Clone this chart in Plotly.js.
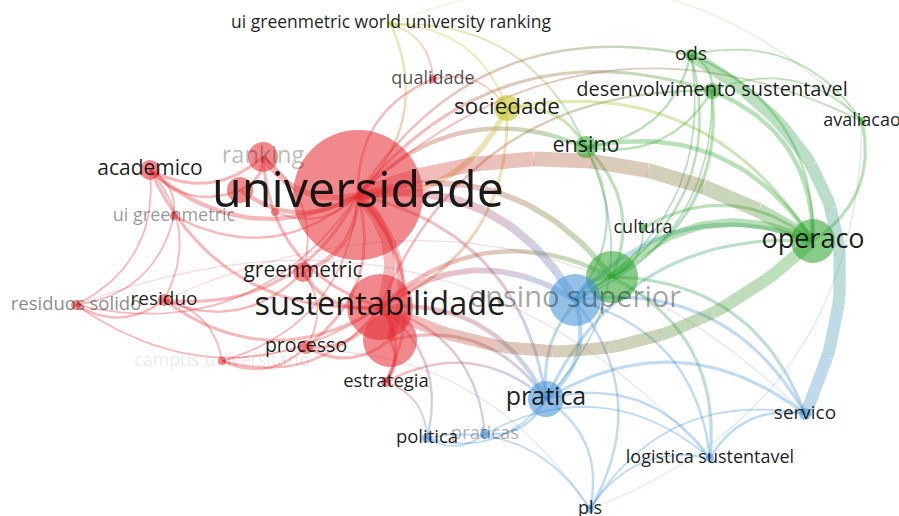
<!DOCTYPE html>
<html><head><meta charset="utf-8">
<script src="https://cdn.plot.ly/plotly-3.0.1.min.js"></script>
<style>html,body{margin:0;padding:0;background:#fff;overflow:hidden}#chart{width:899px;height:516px;}</style>
</head><body><div id="chart"></div>
<script>
// ---- DATA: VOSviewer co-occurrence map ----
const nodeLabels = [
  "universidade","sustentabilidade","","ranking","","","greenmetric","processo","academico",
  "ui greenmetric","residuo","residuos solido","campus universitario","estrategia","qualidade",
  "sociedade","ui greenmetric world university ranking","ods","desenvolvimento sustentavel",
  "avaliacao","ensino","cultura","operaco","","ensino superior","pratica","praticas","politica",
  "servico","logistica sustentavel","pls"
];
const mapX = [358,380,390,263,240,275,303,306,150,174,164,76,222,386,433,507,391,691,712,862,586,643,813,612,575,546,485,427,805,710,590];
const mapY = [195,307,340,157,190,212,272,347,170,216,300,305,361,382,79,108,24,55,91,121,147,228,241,277,300,399,434,438,414,458,509];
const nodeWeight = [65,33,27,15,13,4,10,7,10,4,6,5,4,5,4,13,3,6,8,4,11,4,22,26,26,18,5,5,6,4,4];
const nodeCluster = [0,0,0,0,0,0,0,0,0,0,0,0,0,0,0,1,1,2,2,2,2,2,2,2,3,3,3,3,3,3,3];
const edgeFrom = [0,0,0,0,0,0,0,0,0,0,0,0,0,0,1,1,1,1,1,1,1,1,1,2,2,3,3,6,8,8,8,10,10,7,9,3,4,6,13,
  15,16,16,16,16,15,15,15,14,
  17,18,17,17,18,19,17,18,20,23,21,20,18,17,21,0,22,0,0,1,0,0,1,0,
  0,1,24,24,24,17,25,25,25,25,25,26,24,24,24,1,0,13,27,29,30,30,26,1,1,2,25,25,23,23,20,20,18,17,
  11,12,19,16,10];
const edgeTo = [1,2,3,4,5,6,7,8,9,10,11,12,13,14,2,3,6,7,8,10,11,12,13,7,13,8,4,10,9,10,11,11,12,12,11,6,8,7,27,
  0,0,15,14,20,20,22,1,15,
  22,22,18,20,20,22,19,19,22,22,22,23,23,23,23,22,1,20,23,23,17,18,18,19,
  24,24,25,23,22,28,28,29,30,26,27,27,30,29,28,25,25,25,30,28,29,28,29,27,26,25,22,23,28,29,25,24,24,24,
  29,30,30,19,28];
const edgeStrength = [8,5,4,3,1,3,2,3,1.5,2,1,1,2,1.5,4,2,2.5,2.5,2,2,1,1.5,2,2,2,2,2,1.5,1,1,1,1.5,1,1.5,1,1,1.5,1,1,
  4,1.5,1,1,1,2,2,2,1,
  1.5,3,1.5,1.5,1.5,2,1,1,3,6,2,2,2,1.5,1,11,9,3,4,3,1.5,2,1.5,1,
  6,4,3,3,3,9,2,1.5,1.5,1.5,1,1,1.5,1.5,2,3,2,1.5,1,1.5,1,1,1,1.5,1.5,2,2,2,2,2,1,1.5,1,1,
  0.6,0.6,0.6,0.6,0.6];

// ---- STYLE ----
const clusterRGB = [[228,42,50],[190,190,30],[45,162,45],[62,142,212]];
const hiddenLabelAlpha = {"ranking":0.3,"ui greenmetric":0.45,"residuos solido":0.5,"campus universitario":0.1,
  "ensino superior":0.4,"praticas":0.35,"qualidade":0.75};
const curvatureOverride = {"17-28":0.23, "0-22":0.125};
const rgba = (c,a) => `rgba(${c[0]},${c[1]},${c[2]},${a})`;

const traces = [];
const order = edgeFrom.map((_,i)=>i).sort((a,b)=>edgeStrength[a]-edgeStrength[b]);
order.forEach(i => {
  const a = edgeFrom[i], b = edgeTo[i];
  const K = curvatureOverride[a+'-'+b] !== undefined ? curvatureOverride[a+'-'+b] : 0.17;
  const x0 = mapX[a], y0 = mapY[a], x1 = mapX[b], y1 = mapY[b];
  const dx = x1-x0, dy = y1-y0, len = Math.hypot(dx,dy);
  const nx = dy/len, ny = -dx/len;
  const cx = (x0+x1)/2 + 2*K*len*nx, cy = (y0+y1)/2 + 2*K*len*ny;
  const pt = t => [(1-t)*(1-t)*x0 + 2*(1-t)*t*cx + t*t*x1, (1-t)*(1-t)*y0 + 2*(1-t)*t*cy + t*t*y1];
  const c0 = clusterRGB[nodeCluster[a]], c1 = clusterRGB[nodeCluster[b]];
  const width = 0.5 + edgeStrength[i]*1.3;
  const alpha = edgeStrength[i] < 1 ? 0.18 : 0.33;
  const segs = (nodeCluster[a] === nodeCluster[b]) ? 1 : 8;
  for (let s = 0; s < segs; s++) {
    const xs = [], ys = [];
    const tA = s/segs, tB = (s+1)/segs, n = Math.max(3, Math.round(30/segs)+1);
    for (let j = 0; j <= n; j++) { const p = pt(tA + (tB-tA)*j/n); xs.push(p[0]); ys.push(p[1]); }
    const tm = Math.pow((tA+tB)/2, 1.4);
    const col = [0,1,2].map(k => Math.round(c0[k]*(1-tm) + c1[k]*tm));
    traces.push({type:'scatter', mode:'lines', x:xs, y:ys, hoverinfo:'skip',
      line:{color:rgba(col,alpha), width:width}});
  }
});

traces.push({type:'scatter', mode:'markers', x:mapX, y:mapY, hoverinfo:'skip',
  marker:{size:nodeWeight.map(r=>2*r), color:nodeCluster.map(c=>rgba(clusterRGB[c],0.8)), line:{width:0}}});

traces.push({type:'scatter', mode:'text', x:mapX, y:mapY, text:nodeLabels, hoverinfo:'skip',
  textposition:'middle center', cliponaxis:false,
  textfont:{family:'"Open Sans", "Noto Sans", sans-serif',
    size:nodeWeight.map(r=>16 + 0.5*r),
    color:nodeLabels.map(l => `rgba(15,15,15,${hiddenLabelAlpha[l] !== undefined ? hiddenLabelAlpha[l] : 0.95})`)}});

const layout = {
  width:899, height:516, margin:{l:0,r:0,t:0,b:0},
  paper_bgcolor:'#ffffff', plot_bgcolor:'#ffffff', showlegend:false, hovermode:false,
  xaxis:{range:[0,899], visible:false, fixedrange:true},
  yaxis:{range:[516,0], visible:false, fixedrange:true}
};
Plotly.newPlot('chart', traces, layout, {staticPlot:true, displayModeBar:false});
</script></body></html>
